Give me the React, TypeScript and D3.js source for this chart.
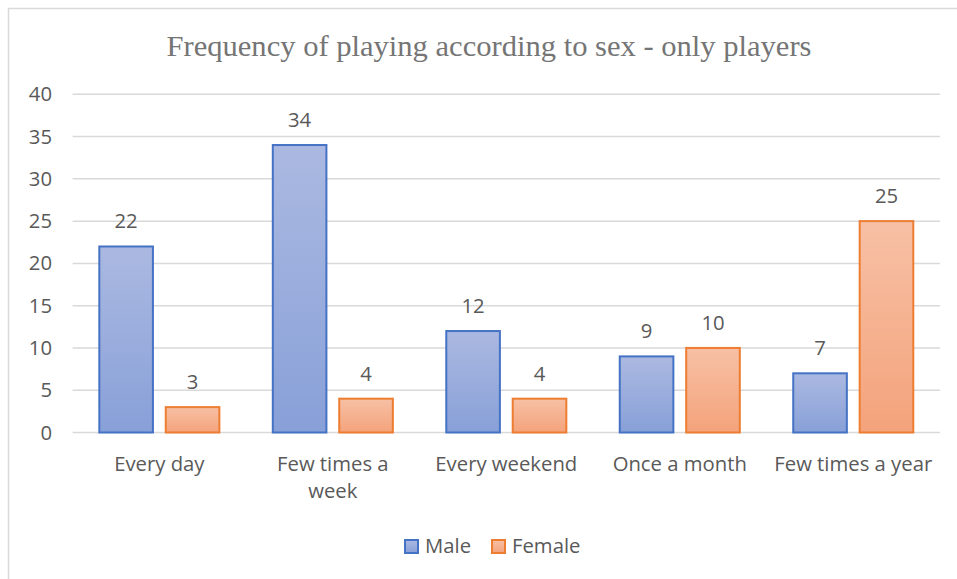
import React from "react";
import * as d3 from "d3";

const categories = ["Every day", "Few times a week", "Every weekend", "Once a month", "Few times a year"];
const categoryLines = [["Every day"], ["Few times a", "week"], ["Every weekend"], ["Once a month"], ["Few times a year"]];
const seriesNames = ["Male", "Female"];
const maleValues = [22, 34, 12, 9, 7];
const femaleValues = [3, 4, 4, 10, 25];
const yTicks = [0, 5, 10, 15, 20, 25, 30, 35, 40];

const W = 957, H = 579;
const left = 72.6, right = 940, top = 94.3, bottom = 432.5;
const font = "'Open Sans', sans-serif";
const textColor = "#595959";
const fs = 20.3;

export default function App() {
  const x0 = d3.scaleBand<string>().domain(categories).range([left, right]).padding(0);
  const bwGroup = x0.bandwidth();
  const x1 = d3.scaleBand<string>().domain(seriesNames).range([bwGroup * 0.154, bwGroup * 0.846]).paddingInner(0.193);
  const y = d3.scaleLinear().domain([0, 40]).range([bottom, top]);
  const series = [
    { name: "Male", values: maleValues, stroke: "#4472c4", grad: "gMale" },
    { name: "Female", values: femaleValues, stroke: "#ed7d31", grad: "gFemale" },
  ];
  return (
    <svg width={W} height={H} style={{ position: "absolute", left: 0, top: 0 }}>
      <defs>
        <linearGradient id="gMale" x1="0" y1="0" x2="0" y2="1">
          <stop offset="0" stopColor="#abb9e1" />
          <stop offset="1" stopColor="#88a0d8" />
        </linearGradient>
        <linearGradient id="gFemale" x1="0" y1="0" x2="0" y2="1">
          <stop offset="0" stopColor="#f7c0a5" />
          <stop offset="1" stopColor="#f4a37b" />
        </linearGradient>
      </defs>
      <rect x={0} y={0} width={W} height={H} fill="#fff" />
      <rect x={8.5} y={8.5} width={W + 10} height={H + 10} fill="#fff" stroke="#d9d9d9" strokeWidth={1.5} />
      <text x={166.5} y={56} textLength={645} lengthAdjust="spacingAndGlyphs" fontFamily="'Liberation Serif', 'Times New Roman', serif" fontSize={29} fill="#757575">
        Frequency of playing according to sex - only players
      </text>
      {yTicks.map((t) => (
        <g key={t}>
          <line x1={left} x2={right} y1={y(t)} y2={y(t)} stroke="#d9d9d9" strokeWidth={1.5} />
          <text x={52} y={y(t) + 7} textAnchor="end" fontFamily={font} fontSize={fs} fill={textColor}>{t}</text>
        </g>
      ))}
      {categories.map((c, i) => (
        <g key={c}>
          {series.map((s) => {
            const v = s.values[i];
            const bx = (x0(c) as number) + (x1(s.name) as number);
            const bw = x1.bandwidth();
            return (
              <g key={s.name}>
                <rect x={bx} y={y(v)} width={bw} height={y(0) - y(v)} fill={`url(#${s.grad})`} stroke={s.stroke} strokeWidth={2} />
                <text x={bx + bw / 2} y={y(v) - 18} textAnchor="middle" fontFamily={font} fontSize={fs} fill={textColor}>{v}</text>
              </g>
            );
          })}
          {categoryLines[i].map((ln, j) => (
            <text key={j} x={(x0(c) as number) + x0.bandwidth() / 2} y={471 + j * 27} textAnchor="middle" fontFamily={font} fontSize={fs} fill={textColor}>{ln}</text>
          ))}
        </g>
      ))}
      {series.map((s, i) => {
        const lx = i === 0 ? 405 : 492;
        return (
          <g key={s.name}>
            <rect x={lx} y={540} width={13} height={13} fill={`url(#${s.grad})`} stroke={s.stroke} strokeWidth={2} />
            <text x={lx + 20} y={553} fontFamily={font} fontSize={fs} fill={textColor}>{s.name}</text>
          </g>
        );
      })}
    </svg>
  );
}
